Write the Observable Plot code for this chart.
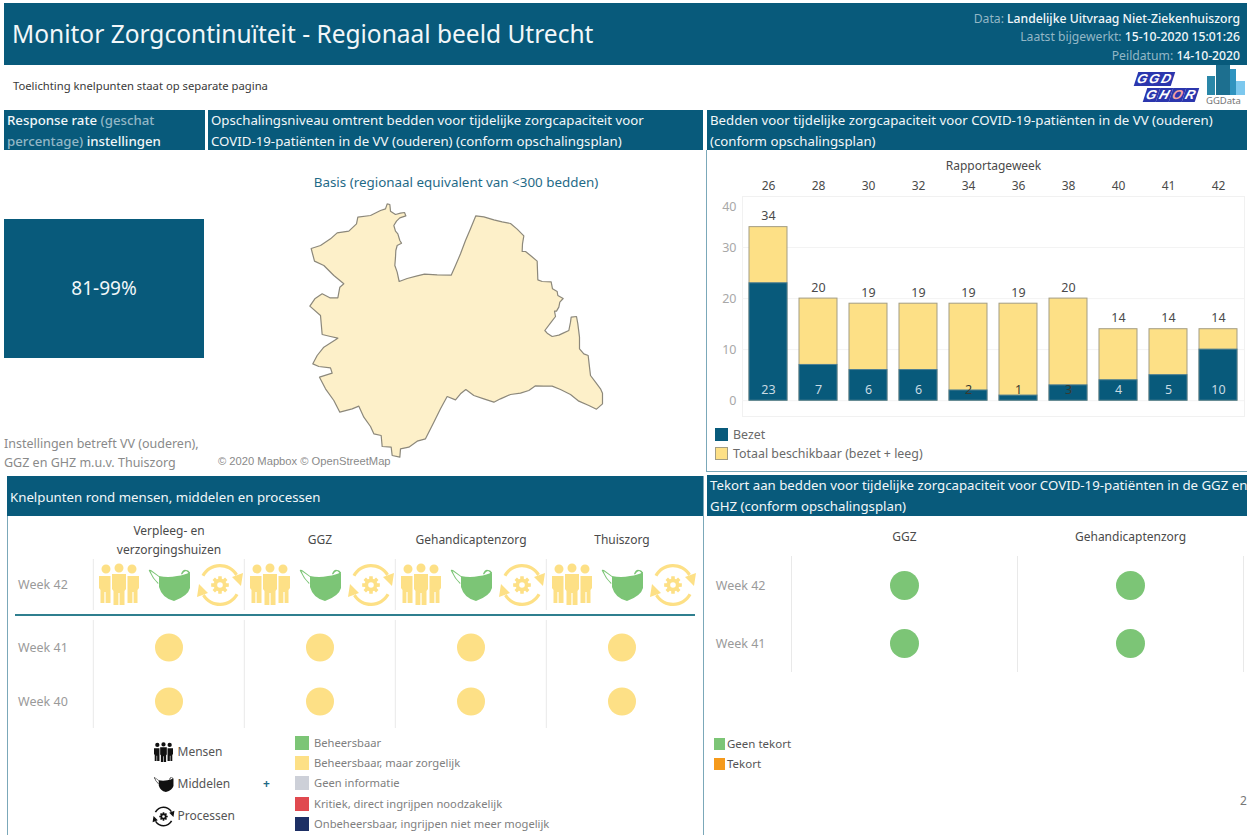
<!DOCTYPE html>
<html lang="nl">
<head>
<meta charset="utf-8">
<title>Monitor Zorgcontinuïteit</title>
<script src="https://cdn.jsdelivr.net/npm/d3@7"></script>
<script src="https://cdn.jsdelivr.net/npm/@observablehq/plot@0.6"></script>
<style>
html,body{margin:0;padding:0;background:#fff;}
body{position:relative;width:1247px;height:835px;overflow:hidden;font-family:"Noto Sans",sans-serif;}
.a{position:absolute;white-space:nowrap;}
.hd{position:absolute;background:#085a7b;color:#f2f7f9;font-size:13.25px;line-height:20.5px;box-sizing:border-box;padding:0 0 0 3px;white-space:nowrap;}
.lt{color:#93b7c6;}
.sw{position:absolute;width:13px;height:13px;}
.ln{position:absolute;background:#7ba8b9;}
.plot{position:absolute;}
.plot svg{display:block;overflow:visible;}
</style>
</head>
<body>
<script>
// ---------- data ----------
const weeks = ["26","28","30","32","34","36","38","40","41","42"];
const totaal = [34,20,19,19,19,19,20,14,14,14];
const bezet = [23,7,6,6,2,1,3,4,5,10];
const darkLabels = ["34","36","38"];

const categoriesLeft = ["Verpleeg- en\nverzorgingshuizen","GGZ","Gehandicaptenzorg","Thuiszorg"];
const categoriesRight = ["GGZ","Gehandicaptenzorg"];
const statuses = ["Beheersbaar","Beheersbaar, maar zorgelijk","Geen informatie","Kritiek, direct ingrijpen noodzakelijk","Onbeheersbaar, ingrijpen niet meer mogelijk"];
const statusColors = ["#7cc576","#fde086","#cdd0d8","#e0494f","#1d2f64"];
const mensen42 = [1,1,1,1];
const middelen42 = [0,0,0,0];
const processen42 = [1,1,1,1];
const week41 = [1,1,1,1];
const week40 = [1,1,1,1];
const tekort42 = ["Geen tekort","Geen tekort"];
const tekort41 = ["Geen tekort","Geen tekort"];
const tekortLabels = ["Geen tekort","Tekort"];
const tekortColors = ["#7cc576","#f59a1b"];
const iconLabels = ["Mensen","Middelen","Processen"];

// Province outline (map units)
const mapX = [320,328,330,345,360,372,376,358,348,340,345,352,358,363,350,346,345,343,350,356,380,410,432,470,512,525,540,555,570,586,610,640,665,690,710,730,726,725,735,750,770,771,772,785,812,816,830,832,848,838,835,828,822,825,812,793,800,815,835,848,865,870,872,888,892,897,897,910,923,927,930,945,960,966,966,948,925,895,870,840,815,790,765,745,720,690,660,640,610,580,556,540,525,500,480,460,435,410,385,360,358,335,332,305,302,280,270,250,235,215,178,160,135,117,155,150,115,97,110,130,172,150,125,120,88,103,125,148,172,178,190,160,130,102,92,120,150,170,205,228,232,270,300,315];
const mapY = [40,42,62,72,68,66,76,82,92,105,122,130,150,158,165,180,200,225,245,273,264,256,251,253,254,225,190,150,115,76,79,88,94,99,116,136,160,183,183,195,212,240,268,273,274,295,303,315,324,335,350,362,362,378,395,420,428,438,434,428,420,395,380,378,400,440,475,490,495,530,555,575,595,608,640,656,645,632,612,597,587,587,586,600,608,612,625,635,625,615,597,610,628,618,655,695,745,752,770,775,800,795,770,768,735,730,708,680,647,655,665,630,595,560,548,532,528,520,495,470,443,438,432,375,347,325,310,322,322,290,280,255,225,212,174,165,145,127,122,100,80,75,60,55];

// ---------- helpers ----------
const FONT = '"Noto Sans",sans-serif';
function text(x,y,s,css={}){const d=document.createElement("div");d.className="a";d.style.left=x+"px";d.style.top=y+"px";d.innerHTML=s;Object.assign(d.style,css);document.body.appendChild(d);return d;}
function box(cls,x,y,w,h,css={}){const d=document.createElement("div");d.className=cls;Object.assign(d.style,{left:x+"px",top:y+"px",width:w+"px",height:h+"px"},css);document.body.appendChild(d);return d;}
function header(x,y,w,h,html,css={}){const d=box("hd",x,y,w,h,css);d.innerHTML=html;return d;}
function place(x,y,svg){const d=document.createElement("div");d.className="plot";d.style.left=x+"px";d.style.top=y+"px";d.appendChild(svg);document.body.appendChild(d);}
const plotStyle = (size)=>({fontFamily:FONT,fontSize:size+"px",background:"transparent",overflow:"visible"});

// ---------- icon symbols (20 units = r) ----------
const unit = (size)=>Math.sqrt(size/Math.PI)/20;
const people = {draw(c,size){const k=unit(size);
  const circle=(x,y,r)=>{c.moveTo((x+r)*k,y*k);c.arc(x*k,y*k,r*k,0,2*Math.PI);c.closePath();};
  const poly=(p)=>{c.moveTo(p[0][0]*k,p[0][1]*k);p.slice(1).forEach(q=>c.lineTo(q[0]*k,q[1]*k));c.closePath();};
  circle(-13,-16,4.5);circle(0,-17,4.5);circle(13,-16,4.5);
  poly([[-7,-11],[7,-11],[7,4],[5.5,6],[5.5,20],[0.6,20],[0.6,8],[-0.6,8],[-0.6,20],[-5.5,20],[-5.5,6],[-7,4]]);
  poly([[-20,-9],[-8.5,-9],[-8.5,18],[-13.4,18],[-13.4,7],[-14.6,7],[-14.6,18],[-18.5,18],[-18.5,5],[-20,3]]);
  poly([[20,-9],[8.5,-9],[8.5,18],[13.4,18],[13.4,7],[14.6,7],[14.6,18],[18.5,18],[18.5,5],[20,3]]);
}};
const mask = {draw(c,size){const k=unit(size);
  const M=(x,y)=>c.moveTo(x*k,y*k),L=(x,y)=>c.lineTo(x*k,y*k),Q=(a,b,x,y)=>c.quadraticCurveTo(a*k,b*k,x*k,y*k);
  M(-10,-9);Q(-1,-7,8,-9);Q(16,-10,21,-13);L(21,3);Q(19,11,5,16);Q(-7,13,-10,2);c.closePath();
  M(-11,-1);Q(-17,-7,-20,-14);Q(-21,-16,-18,-15);L(-10,-9);L(-10,-8);L(-18.5,-14);Q(-16,-7,-10.5,-2);c.closePath();
  M(12,-11);Q(14,-16,17,-15);Q(20,-15,21,-12);L(20,-11.5);Q(18,-14,17,-14);Q(15,-14,13,-10.5);c.closePath();
}};
const process = {draw(c,size){const k=unit(size);
  const R=21,r=17.8;
  const ring=(a0,a1)=>{c.moveTo(R*k*Math.cos(a0),R*k*Math.sin(a0));c.arc(0,0,R*k,a0,a1,false);c.arc(0,0,r*k,a1,a0,true);c.closePath();};
  ring(Math.PI+0.5,2*Math.PI-0.55);ring(0.5,Math.PI-0.55);
  const tri=(a,b,d)=>{c.moveTo(a[0]*k,a[1]*k);c.lineTo(b[0]*k,b[1]*k);c.lineTo(d[0]*k,d[1]*k);c.closePath();};
  tri([12,-8],[23,-12],[21,1]);tri([-12,8],[-23,12],[-21,-1]);
  c.moveTo(6.5*k,0);c.arc(0,0,6.5*k,0,2*Math.PI,false);c.closePath();
  c.moveTo(2.8*k,0);c.arc(0,0,2.8*k,2*Math.PI,0,true);c.closePath();
  for(let i=0;i<8;i++){const a=i*Math.PI/4,w=.32,A=(p,t)=>[p*Math.cos(t)*k,p*Math.sin(t)*k];
    const p=[A(6,a-w),A(9,a-w*.6),A(9,a+w*.6),A(6,a+w)];c.moveTo(...p[0]);c.lineTo(...p[1]);c.lineTo(...p[2]);c.lineTo(...p[3]);c.closePath();}
}};

// ---------- page furniture ----------
header(4,3,1243,62,"",{});
text(12,16,"Monitor Zorgcontinuïteit - Regionaal beeld Utrecht",{color:"#f2f7f9",fontSize:"24.5px",lineHeight:"36px"});
const meta=[['Data: ','Landelijke Uitvraag Niet-Ziekenhuiszorg',11],['Laatst bijgewerkt: ','15-10-2020 15:01:26',29],['Peildatum: ','14-10-2020',48]];
meta.forEach(m=>text(0,m[2],`<span class="lt">${m[0]}</span><span style="font-weight:500">${m[1]}</span>`,{right:"7px",left:"auto",color:"#f2f7f9",fontSize:"12.2px",lineHeight:"16px"}));
text(13,78,"Toelichting knelpunten staat op separate pagina",{fontSize:"11.25px",color:"#3a3a3a",lineHeight:"16px"});

// logos
const ggd=[["G",1136,72],["G",1148,72],["D",1160,72],["G",1145,88],["H",1158,88],["O",1171,88],["R",1184,88]];
ggd.forEach(l=>{const d=box("a",l[1],l[2],12.6,14,{background:"#2b36ad",transform:"skewX(-18deg)"});
  d.innerHTML=`<span style="display:block;text-align:center;font:italic bold 13px/14px 'Liberation Sans';color:${l[0]=="O"?"#f0a0a0":"#fff"}">${l[0]}</span>`;});
box("a",1207,76,8,19,{background:"#2a87a8"});box("a",1216,65,14,30,{background:"#1d6f8f"});box("a",1230,69,6,26,{background:"#2f93bf"});box("a",1236,81,9,14,{background:"#7cc8ee"});
text(1206,95,"GGData",{fontSize:"9.5px",color:"#777",lineHeight:"11px"});

// section headers
header(4,110,201,40,'Response rate <span class="lt">(geschat<br>percentage)</span> instellingen',{fontWeight:500});
header(208,110,495,40,'Opschalingsniveau omtrent bedden voor tijdelijke zorgcapaciteit voor<br>COVID-19-patiënten in de VV (ouderen) (conform opschalingsplan)');
header(707,110,540,40,'Bedden voor tijdelijke zorgcapaciteit voor COVID-19-patiënten in de VV (ouderen)<br>(conform opschalingsplan)');
header(7,476,696,40,'Knelpunten rond mensen, middelen en processen',{lineHeight:"42px",paddingLeft:"3px"});
header(707,475,540,41,'Tekort aan bedden voor tijdelijke zorgcapaciteit voor COVID-19-patiënten in de GGZ en<br>GHZ (conform opschalingsplan)');

// panel borders
box("ln",706,150,1,322);box("ln",706,471,541,1);
box("ln",7,516,1,319);box("ln",703,476,1,359);

// response box
const rb=box("a",4,219,200,139,{background:"#085a7b",color:"#f2f7f9",fontSize:"19px",lineHeight:"139px",textAlign:"center"});rb.textContent="81-99%";
text(4,435,"Instellingen betreft VV (ouderen),<br>GGZ en GHZ m.u.v. Thuiszorg",{fontSize:"12.5px",lineHeight:"18.5px",color:"#8a8a8a"});
text(218,454,"© 2020 Mapbox © OpenStreetMap",{fontSize:"11.2px",lineHeight:"14px",color:"#8a8a8a",fontFamily:"Liberation Sans"});
const basis=text(256,173,"Basis (regionaal equivalent van &lt;300 bedden)",{width:"400px",textAlign:"center",fontSize:"13.4px",lineHeight:"18px",color:"#1f6a87"});

// ---------- map ----------
const mapRows = mapX.map((x,i)=>({x,y:mapY[i]}));
place(280,190,Plot.plot({
  width:350,height:280,margin:0,style:plotStyle(10),
  x:{domain:[0,1050],range:[0,350],axis:null},
  y:{domain:[0,840],range:[0,280],axis:null},
  marks:[Plot.line([...mapRows,mapRows[0]],{x:"x",y:"y",fill:"#fdf0c9",stroke:"#8c887b",strokeWidth:1.2,curve:"linear"})]
}));

// ---------- bars ----------
const barRows = weeks.map((w,i)=>({week:w,totaal:totaal[i],bezet:bezet[i]}));
place(706,155,Plot.plot({
  width:541,height:315,marginLeft:36,marginRight:3,marginTop:41,marginBottom:54,style:plotStyle(12),
  x:{domain:weeks,paddingInner:0.243,paddingOuter:0.12,axis:null},
  y:{domain:[-3.1,40],axis:null},
  marks:[
    Plot.frame({stroke:"#f1f1f1"}),
    Plot.ruleY([0,10,20,30],{stroke:"#f3f3f3"}),
    Plot.axisX({anchor:"top",tickSize:0,tickPadding:7,label:"Rapportageweek",labelAnchor:"center",labelArrow:"none",labelOffset:35,fill:"#4a4a4a",fontSize:12}),
    Plot.axisY({ticks:[0,10,20,30],tickSize:0,tickPadding:6,label:null,fill:"#a8a8a8",fontSize:12.5}),
    Plot.text([40],{y:d=>d,frameAnchor:"left",textAnchor:"end",dx:-6,dy:10,fill:"#a8a8a8",fontSize:12.5}),
    Plot.barY(barRows,{x:"week",y:"totaal",fill:"#fde086",stroke:"#a39d83",strokeWidth:1}),
    Plot.barY(barRows,{x:"week",y:"bezet",fill:"#085a7b",stroke:"#4f7f92",strokeWidth:1}),
    Plot.text(barRows,{x:"week",y:"totaal",text:d=>String(d.totaal),dy:-11,fill:"#4a4a4a",fontSize:12.5}),
    Plot.text(barRows,{x:"week",y:()=>2.1,text:d=>String(d.bezet),fill:d=>darkLabels.includes(d.week)?"#3a3a30":"#c9dbe3",fontSize:12.5})
  ]
}));
box("sw",715,428,13,13,{background:"#085a7b"});
box("sw",715,447,13,13,{background:"#fde086",boxSizing:"border-box",border:"1px solid #a39d83"});
text(733,426,"Bezet",{fontSize:"12.4px",lineHeight:"17px",color:"#6a6a6a"});
text(733,445,"Totaal beschikbaar (bezet + leeg)",{fontSize:"12.4px",lineHeight:"17px",color:"#6a6a6a"});

// ---------- knelpunten: week 42 icons ----------
const colorLeft={domain:statuses,range:statusColors};
const rows42 = categoriesLeft.map((c,i)=>({cat:c,week:"Week 42",mensen:statuses[mensen42[i]],middelen:statuses[middelen42[i]],processen:statuses[processen42[i]]}));
const stepLeft = 151.35;
place(7,516,Plot.plot({
  width:696,height:100,marginLeft:85.3,marginRight:5.3,marginTop:43,marginBottom:6,style:plotStyle(12),
  x:{type:"band",domain:categoriesLeft,padding:0,axis:null},y:{type:"band",domain:["Week 42"],padding:0,axis:null},color:colorLeft,
  marks:[
    Plot.ruleX(categoriesLeft,{x:d=>d,dx:-stepLeft/2,stroke:"#e9e9e9"}),
    Plot.axisY({tickSize:0,tickPadding:25,label:null,fill:"#9a9a9a",fontSize:12.5}),
    Plot.text(categoriesLeft,{x:d=>d,frameAnchor:"top",lineAnchor:"middle",dy:-21,lineHeight:1.55,fill:"#4a4a4a",fontSize:12,text:d=>d}),
    Plot.dot(rows42,{x:"cat",y:"week",dx:-50,r:20,symbol:people,fill:"mensen",stroke:"none"}),
    Plot.dot(rows42,{x:"cat",y:"week",r:20,symbol:mask,fill:"middelen",stroke:"none"}),
    Plot.dot(rows42,{x:"cat",y:"week",dx:51,r:20,symbol:process,fill:"processen",stroke:"none"})
  ]
}));
box("ln",15,614,680,1.5,{background:"#2f7f8f"});

// ---------- knelpunten: weeks 41 / 40 ----------
const rowsPast = [...categoriesLeft.map((c,i)=>({cat:c,week:"Week 41",status:statuses[week41[i]]})),...categoriesLeft.map((c,i)=>({cat:c,week:"Week 40",status:statuses[week40[i]]}))];
place(7,616,Plot.plot({
  width:696,height:116,marginLeft:85.3,marginRight:5.3,marginTop:4,marginBottom:4,style:plotStyle(12),
  x:{type:"band",domain:categoriesLeft,padding:0,axis:null},y:{type:"band",domain:["Week 41","Week 40"],padding:0,axis:null},color:colorLeft,
  marks:[
    Plot.ruleX(categoriesLeft,{x:d=>d,dx:-stepLeft/2,stroke:"#e9e9e9"}),
    Plot.axisY({tickSize:0,tickPadding:25,label:null,fill:"#9a9a9a",fontSize:12.5}),
    Plot.dot(rowsPast,{x:"cat",y:"week",r:14,fill:"status",stroke:"none"})
  ]
}));

// icon legend
place(143,736,Plot.plot({
  width:120,height:96,margin:0,style:plotStyle(12),
  x:{domain:[0,120],range:[0,120],axis:null},y:{type:"band",domain:iconLabels,padding:0,axis:null},
  marks:[
    Plot.dot(["Mensen"],{x:()=>20,y:d=>d,r:9.5,symbol:people,fill:"#111",stroke:"none"}),
    Plot.dot(["Middelen"],{x:()=>20,y:d=>d,r:9.5,symbol:mask,fill:"#111",stroke:"none"}),
    Plot.dot(["Processen"],{x:()=>20,y:d=>d,r:9.5,symbol:process,fill:"#111",stroke:"none"}),
    Plot.text(iconLabels,{x:()=>34,y:d=>d,text:d=>d,textAnchor:"start",fill:"#555",fontSize:12})
  ]
}));
text(263,775,"+",{fontSize:"12px",lineHeight:"17px",color:"#1f6a87",fontWeight:"bold"});
statuses.forEach((s,i)=>{const y=[743,763,783,804,824][i];
  box("sw",295,y-7,14,14,{background:statusColors[i]});
  text(314,y-8,s,{fontSize:"11.2px",lineHeight:"16px",color:"#808080"});
});

// ---------- tekort ----------
const rowsTekort=[...categoriesRight.map((c,i)=>({cat:c,week:"Week 42",status:tekort42[i]})),...categoriesRight.map((c,i)=>({cat:c,week:"Week 41",status:tekort41[i]}))];
place(707,516,Plot.plot({
  width:540,height:160,marginLeft:84,marginRight:4,marginTop:40,marginBottom:4,style:plotStyle(12),
  x:{type:"band",domain:categoriesRight,padding:0,axis:null},y:{type:"band",domain:["Week 42","Week 41"],padding:0,axis:null},color:{domain:tekortLabels,range:tekortColors},
  marks:[
    Plot.ruleX(categoriesRight,{x:d=>d,dx:-113,stroke:"#e9e9e9"}),
    Plot.ruleX(["Gehandicaptenzorg"],{x:d=>d,dx:113,stroke:"#e9e9e9"}),
    Plot.axisY({tickSize:0,tickPadding:26,label:null,fill:"#9a9a9a",fontSize:12.5}),
    Plot.text(categoriesRight,{x:d=>d,frameAnchor:"top",lineAnchor:"middle",dy:-19,fill:"#4a4a4a",fontSize:12,text:d=>d}),
    Plot.dot(rowsTekort,{x:"cat",y:"week",r:14.5,fill:"status",stroke:"none"})
  ]
}));
tekortLabels.forEach((s,i)=>{const y=744+i*20;
  box("sw",714,y-6,11,12,{background:tekortColors[i]});
  text(727,y-8,s,{fontSize:"11.5px",lineHeight:"16px",color:"#555"});
});
text(1240,793,"2",{fontSize:"12px",lineHeight:"16px",color:"#777"});
</script>
</body>
</html>
